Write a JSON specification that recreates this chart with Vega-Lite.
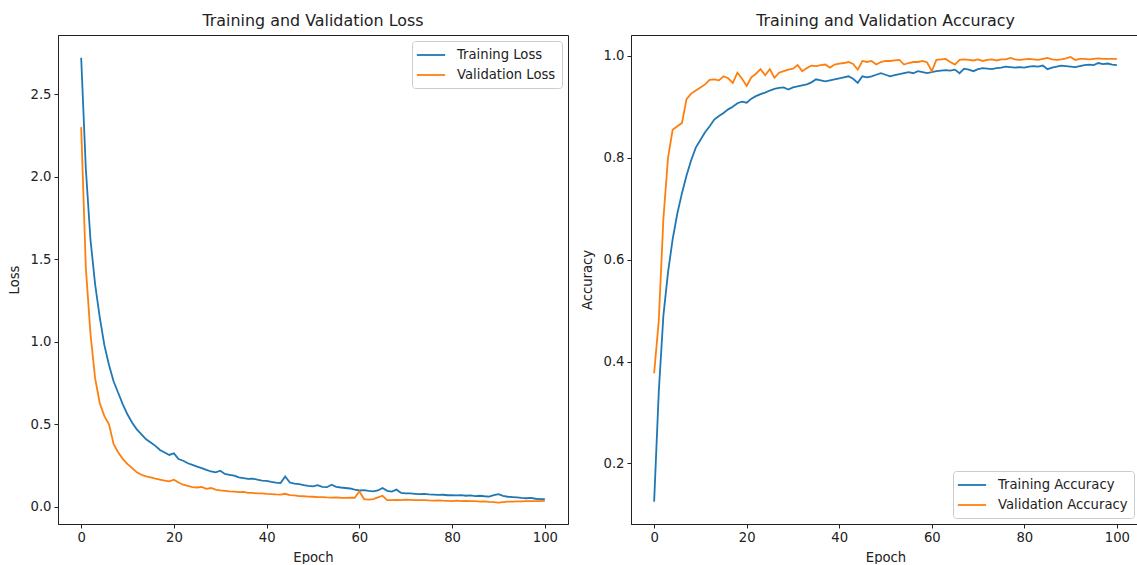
{
  "$schema": "https://vega.github.io/schema/vega-lite/v6.json",
  "padding": {"left": 6, "top": 12, "right": 0, "bottom": 0},
  "background": "white",
  "spacing": 10,
  "config": {
    "font": "DejaVu Sans",
    "view": {"stroke": "#222", "strokeWidth": 1},
    "axis": {"domainColor": "#222", "tickColor": "#222", "labelColor": "#222", "titleColor": "#222", "labelFont": "DejaVu Sans", "titleFont": "DejaVu Sans", "labelFontSize": 13.2, "titleFontSize": 13.2, "titleFontWeight": "normal", "tickSize": 4, "labelPadding": 3, "grid": false},
    "axisY": {"minExtent": 30, "maxExtent": 30, "titlePadding": 7},
    "axisX": {"titlePadding": 8},
    "title": {"font": "DejaVu Sans", "fontSize": 15.9, "fontWeight": "normal", "color": "#222", "offset": 6},
    "legend": {"labelFont": "DejaVu Sans", "labelFontSize": 13.2, "labelColor": "#222", "fillColor": "rgba(255,255,255,0.85)", "strokeColor": "#cccccc", "cornerRadius": 3, "padding": 6, "symbolType": "M-2,0H2", "symbolSize": 200, "symbolStrokeWidth": 1.8, "symbolOffset": 5, "labelOffset": 18, "rowPadding": 5, "offset": 6}
  },
  "datasets": {
    "hist": [
      {"epoch":0,"tl":2.72,"vl":2.30,"ta":0.125,"va":0.377},
      {"epoch":1,"tl":2.05,"vl":1.45,"ta":0.34,"va":0.48},
      {"epoch":2,"tl":1.62,"vl":1.05,"ta":0.49,"va":0.68},
      {"epoch":3,"tl":1.35,"vl":0.78,"ta":0.575,"va":0.80},
      {"epoch":4,"tl":1.15,"vl":0.63,"ta":0.64,"va":0.855},
      {"epoch":5,"tl":0.98,"vl":0.55,"ta":0.69,"va":0.862},
      {"epoch":6,"tl":0.86,"vl":0.50,"ta":0.73,"va":0.868},
      {"epoch":7,"tl":0.76,"vl":0.38,"ta":0.765,"va":0.915},
      {"epoch":8,"tl":0.69,"vl":0.33,"ta":0.795,"va":0.926},
      {"epoch":9,"tl":0.62,"vl":0.29,"ta":0.82,"va":0.932},
      {"epoch":10,"tl":0.56,"vl":0.26,"ta":0.835,"va":0.938},
      {"epoch":11,"tl":0.51,"vl":0.235,"ta":0.85,"va":0.944},
      {"epoch":12,"tl":0.47,"vl":0.21,"ta":0.862,"va":0.953},
      {"epoch":13,"tl":0.44,"vl":0.195,"ta":0.875,"va":0.954},
      {"epoch":14,"tl":0.41,"vl":0.185,"ta":0.882,"va":0.952},
      {"epoch":15,"tl":0.39,"vl":0.18,"ta":0.888,"va":0.96},
      {"epoch":16,"tl":0.37,"vl":0.172,"ta":0.895,"va":0.956},
      {"epoch":17,"tl":0.345,"vl":0.165,"ta":0.9,"va":0.947},
      {"epoch":18,"tl":0.33,"vl":0.16,"ta":0.907,"va":0.967},
      {"epoch":19,"tl":0.315,"vl":0.155,"ta":0.91,"va":0.955},
      {"epoch":20,"tl":0.325,"vl":0.165,"ta":0.908,"va":0.941},
      {"epoch":21,"tl":0.29,"vl":0.148,"ta":0.916,"va":0.958},
      {"epoch":22,"tl":0.28,"vl":0.135,"ta":0.921,"va":0.965},
      {"epoch":23,"tl":0.265,"vl":0.128,"ta":0.925,"va":0.974},
      {"epoch":24,"tl":0.255,"vl":0.12,"ta":0.928,"va":0.962},
      {"epoch":25,"tl":0.245,"vl":0.118,"ta":0.932,"va":0.974},
      {"epoch":26,"tl":0.235,"vl":0.122,"ta":0.935,"va":0.957},
      {"epoch":27,"tl":0.225,"vl":0.11,"ta":0.937,"va":0.967},
      {"epoch":28,"tl":0.215,"vl":0.115,"ta":0.938,"va":0.97},
      {"epoch":29,"tl":0.21,"vl":0.105,"ta":0.934,"va":0.973},
      {"epoch":30,"tl":0.22,"vl":0.1,"ta":0.938,"va":0.975},
      {"epoch":31,"tl":0.2,"vl":0.098,"ta":0.94,"va":0.982},
      {"epoch":32,"tl":0.195,"vl":0.095,"ta":0.942,"va":0.97},
      {"epoch":33,"tl":0.19,"vl":0.093,"ta":0.944,"va":0.976},
      {"epoch":34,"tl":0.18,"vl":0.09,"ta":0.948,"va":0.981},
      {"epoch":35,"tl":0.175,"vl":0.092,"ta":0.954,"va":0.98},
      {"epoch":36,"tl":0.17,"vl":0.086,"ta":0.952,"va":0.982},
      {"epoch":37,"tl":0.172,"vl":0.085,"ta":0.95,"va":0.983},
      {"epoch":38,"tl":0.165,"vl":0.082,"ta":0.952,"va":0.977},
      {"epoch":39,"tl":0.16,"vl":0.083,"ta":0.954,"va":0.983},
      {"epoch":40,"tl":0.158,"vl":0.08,"ta":0.956,"va":0.985},
      {"epoch":41,"tl":0.152,"vl":0.078,"ta":0.958,"va":0.986},
      {"epoch":42,"tl":0.148,"vl":0.076,"ta":0.96,"va":0.988},
      {"epoch":43,"tl":0.145,"vl":0.075,"ta":0.955,"va":0.984},
      {"epoch":44,"tl":0.185,"vl":0.08,"ta":0.947,"va":0.973},
      {"epoch":45,"tl":0.148,"vl":0.072,"ta":0.96,"va":0.99},
      {"epoch":46,"tl":0.142,"vl":0.07,"ta":0.958,"va":0.988},
      {"epoch":47,"tl":0.138,"vl":0.066,"ta":0.96,"va":0.99},
      {"epoch":48,"tl":0.132,"vl":0.065,"ta":0.963,"va":0.983},
      {"epoch":49,"tl":0.128,"vl":0.063,"ta":0.966,"va":0.988},
      {"epoch":50,"tl":0.125,"vl":0.062,"ta":0.963,"va":0.99},
      {"epoch":51,"tl":0.132,"vl":0.06,"ta":0.96,"va":0.99},
      {"epoch":52,"tl":0.122,"vl":0.06,"ta":0.962,"va":0.991},
      {"epoch":53,"tl":0.12,"vl":0.058,"ta":0.964,"va":0.992},
      {"epoch":54,"tl":0.135,"vl":0.057,"ta":0.966,"va":0.983},
      {"epoch":55,"tl":0.122,"vl":0.058,"ta":0.968,"va":0.986},
      {"epoch":56,"tl":0.118,"vl":0.056,"ta":0.966,"va":0.988},
      {"epoch":57,"tl":0.115,"vl":0.055,"ta":0.97,"va":0.988},
      {"epoch":58,"tl":0.112,"vl":0.057,"ta":0.968,"va":0.99},
      {"epoch":59,"tl":0.105,"vl":0.056,"ta":0.966,"va":0.987},
      {"epoch":60,"tl":0.1,"vl":0.095,"ta":0.968,"va":0.97},
      {"epoch":61,"tl":0.102,"vl":0.048,"ta":0.97,"va":0.992},
      {"epoch":62,"tl":0.098,"vl":0.045,"ta":0.971,"va":0.993},
      {"epoch":63,"tl":0.095,"vl":0.048,"ta":0.972,"va":0.994},
      {"epoch":64,"tl":0.1,"vl":0.058,"ta":0.971,"va":0.988},
      {"epoch":65,"tl":0.115,"vl":0.068,"ta":0.973,"va":0.983},
      {"epoch":66,"tl":0.098,"vl":0.042,"ta":0.966,"va":0.992},
      {"epoch":67,"tl":0.093,"vl":0.042,"ta":0.975,"va":0.993},
      {"epoch":68,"tl":0.105,"vl":0.043,"ta":0.973,"va":0.992},
      {"epoch":69,"tl":0.085,"vl":0.042,"ta":0.97,"va":0.991},
      {"epoch":70,"tl":0.083,"vl":0.044,"ta":0.974,"va":0.993},
      {"epoch":71,"tl":0.082,"vl":0.043,"ta":0.976,"va":0.99},
      {"epoch":72,"tl":0.08,"vl":0.042,"ta":0.975,"va":0.992},
      {"epoch":73,"tl":0.078,"vl":0.041,"ta":0.974,"va":0.993},
      {"epoch":74,"tl":0.079,"vl":0.042,"ta":0.976,"va":0.991},
      {"epoch":75,"tl":0.076,"vl":0.04,"ta":0.977,"va":0.993},
      {"epoch":76,"tl":0.075,"vl":0.039,"ta":0.979,"va":0.993},
      {"epoch":77,"tl":0.073,"vl":0.04,"ta":0.978,"va":0.996},
      {"epoch":78,"tl":0.074,"vl":0.038,"ta":0.977,"va":0.993},
      {"epoch":79,"tl":0.071,"vl":0.037,"ta":0.978,"va":0.992},
      {"epoch":80,"tl":0.072,"vl":0.036,"ta":0.977,"va":0.993},
      {"epoch":81,"tl":0.07,"vl":0.038,"ta":0.979,"va":0.994},
      {"epoch":82,"tl":0.072,"vl":0.035,"ta":0.98,"va":0.993},
      {"epoch":83,"tl":0.068,"vl":0.037,"ta":0.979,"va":0.992},
      {"epoch":84,"tl":0.07,"vl":0.036,"ta":0.981,"va":0.994},
      {"epoch":85,"tl":0.066,"vl":0.035,"ta":0.974,"va":0.996},
      {"epoch":86,"tl":0.068,"vl":0.033,"ta":0.977,"va":0.993},
      {"epoch":87,"tl":0.065,"vl":0.034,"ta":0.979,"va":0.992},
      {"epoch":88,"tl":0.063,"vl":0.031,"ta":0.981,"va":0.993},
      {"epoch":89,"tl":0.072,"vl":0.029,"ta":0.98,"va":0.995},
      {"epoch":90,"tl":0.078,"vl":0.027,"ta":0.979,"va":0.998},
      {"epoch":91,"tl":0.068,"vl":0.03,"ta":0.978,"va":0.992},
      {"epoch":92,"tl":0.062,"vl":0.032,"ta":0.98,"va":0.994},
      {"epoch":93,"tl":0.06,"vl":0.033,"ta":0.982,"va":0.994},
      {"epoch":94,"tl":0.058,"vl":0.034,"ta":0.983,"va":0.993},
      {"epoch":95,"tl":0.055,"vl":0.034,"ta":0.982,"va":0.994},
      {"epoch":96,"tl":0.053,"vl":0.035,"ta":0.986,"va":0.995},
      {"epoch":97,"tl":0.055,"vl":0.036,"ta":0.984,"va":0.994},
      {"epoch":98,"tl":0.05,"vl":0.035,"ta":0.985,"va":0.994},
      {"epoch":99,"tl":0.048,"vl":0.036,"ta":0.983,"va":0.994},
      {"epoch":100,"tl":0.047,"vl":0.037,"ta":0.982,"va":0.994}
    ]
  },
  "data": {"name": "hist"},
  "resolve": {"scale": {"color": "independent"}, "legend": {"color": "independent"}},
  "hconcat": [
    {
      "width": 510,
      "height": 489,
      "title": "Training and Validation Loss",
      "encoding": {
        "x": {"field": "epoch", "type": "quantitative", "title": "Epoch", "scale": {"domain": [-5, 105], "nice": false, "zero": false}, "axis": {"values": [0, 20, 40, 60, 80, 100]}}
      },
      "layer": [
        {
          "mark": {"type": "line", "strokeWidth": 1.8},
          "encoding": {
            "y": {"field": "tl", "type": "quantitative", "title": "Loss", "scale": {"domain": [-0.103, 2.858], "nice": false, "zero": false}, "axis": {"values": [0, 0.5, 1, 1.5, 2, 2.5], "format": ".1f"}},
            "color": {"datum": "Training Loss", "type": "nominal", "scale": {"domain": ["Training Loss", "Validation Loss"], "range": ["#1f77b4", "#ff7f0e"]}, "legend": {"title": null, "orient": "top-right"}}
          }
        },
        {
          "mark": {"type": "line", "strokeWidth": 1.8},
          "encoding": {
            "y": {"field": "vl", "type": "quantitative", "title": "Loss"},
            "color": {"datum": "Validation Loss", "type": "nominal"}
          }
        }
      ]
    },
    {
      "width": 509,
      "height": 489,
      "title": "Training and Validation Accuracy",
      "encoding": {
        "x": {"field": "epoch", "type": "quantitative", "title": "Epoch", "scale": {"domain": [-5, 105], "nice": false, "zero": false}, "axis": {"values": [0, 20, 40, 60, 80, 100]}}
      },
      "layer": [
        {
          "mark": {"type": "line", "strokeWidth": 1.8},
          "encoding": {
            "y": {"field": "ta", "type": "quantitative", "title": "Accuracy", "scale": {"domain": [0.081, 1.041], "nice": false, "zero": false}, "axis": {"values": [0.2, 0.4, 0.6, 0.8, 1.0], "format": ".1f"}},
            "color": {"datum": "Training Accuracy", "type": "nominal", "scale": {"domain": ["Training Accuracy", "Validation Accuracy"], "range": ["#1f77b4", "#ff7f0e"]}, "legend": {"title": null, "orient": "bottom-right"}}
          }
        },
        {
          "mark": {"type": "line", "strokeWidth": 1.8},
          "encoding": {
            "y": {"field": "va", "type": "quantitative", "title": "Accuracy"},
            "color": {"datum": "Validation Accuracy", "type": "nominal"}
          }
        }
      ]
    }
  ]
}
